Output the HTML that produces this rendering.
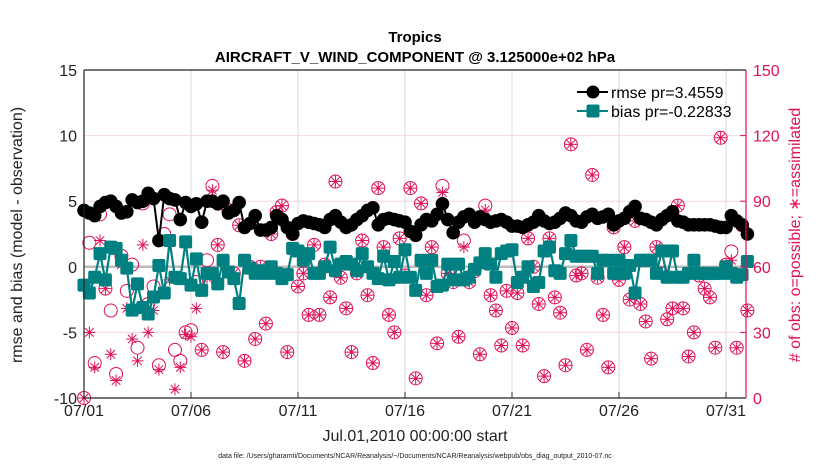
<!DOCTYPE html>
<html><head><meta charset="utf-8"><style>
body{margin:0;background:#fff;}
svg{display:block;font-family:"Liberation Sans",Arial,sans-serif;}
</style></head><body>
<svg id="chart" width="830" height="470" viewBox="0 0 830 470" xmlns="http://www.w3.org/2000/svg">
<g id="grid"></g>
<g id="obs"></g>
<g id="lines"></g>
<g id="axes"></g>
<text x="415" y="42" text-anchor="middle" font-size="15" font-weight="bold">Tropics</text>
<text x="415" y="62" text-anchor="middle" font-size="15" font-weight="bold">AIRCRAFT_V_WIND_COMPONENT @ 3.125000e+02 hPa</text>
<text transform="translate(22,235) rotate(-90)" text-anchor="middle" font-size="16" fill="#222">rmse and bias (model - observation)</text>
<text transform="translate(800,235) rotate(-90)" text-anchor="middle" font-size="16" fill="#e0105a"># of obs: o=possible; ∗=assimilated</text>
<text x="415" y="441" text-anchor="middle" font-size="16" fill="#222">Jul.01,2010 00:00:00 start</text>
<text x="415" y="458" text-anchor="middle" font-size="7" fill="#222">data file: /Users/gharamti/Documents/NCAR/Reanalysis/~/Documents/NCAR/Reanalysis/webpub/obs_diag_output_2010-07.nc</text>
<g>
<line x1="577" y1="92" x2="608" y2="92" stroke="#000" stroke-width="2"/>
<circle cx="593" cy="92" r="6.5" fill="#000"/>
<text x="611" y="98" font-size="16">rmse pr=3.4559</text>
<line x1="577" y1="111" x2="608" y2="111" stroke="#008080" stroke-width="2"/>
<rect x="586.5" y="104.5" width="13" height="13" rx="2" fill="#008080"/>
<text x="611" y="117" font-size="16">bias pr=-0.22833</text>
</g>
</svg>
<script>
const xTickLabels=["07/01","07/06","07/11","07/16","07/21","07/26","07/31"];
const xTickDays=[0,5,10,15,20,25,30];
const yTicks=[-10,-5,0,5,10,15];
const y2Ticks=[0,30,60,90,120,150];
const rmse=[4.3,4.1,3.9,4.6,4.9,5.0,4.6,4.1,4.2,5.1,4.9,5.0,5.6,5.2,2.0,5.5,5.2,5.1,3.6,4.9,4.6,4.8,3.4,5.0,5.0,4.8,5.0,4.1,4.3,4.9,3.0,3.3,3.9,2.8,2.8,3.0,3.9,3.6,3.0,2.5,3.3,3.5,3.4,3.3,3.2,3.0,3.6,3.9,3.4,3.0,3.2,3.6,3.9,4.3,4.5,3.2,3.6,3.7,3.6,3.5,3.4,2.7,2.4,3.2,3.6,3.5,4.0,4.8,3.6,2.6,3.4,3.8,4.0,3.4,3.8,3.6,3.4,3.5,3.6,3.4,3.1,3.1,3.0,3.2,3.4,3.9,3.5,3.3,3.4,3.7,4.1,3.9,3.5,3.4,3.8,4.0,3.7,3.8,4.0,3.2,3.5,3.7,4.2,4.6,3.7,3.6,3.4,3.2,3.6,3.9,4.2,3.5,3.4,3.2,3.2,3.2,3.2,3.2,3.1,3.0,3.0,3.9,3.5,3.2,2.5];
const bias=[-1.4,-2.0,-0.8,1.0,-1.0,1.5,1.4,0.5,-0.1,-3.3,-1.3,-3.1,-3.6,-2.3,0.1,-2.0,2.0,-0.8,-0.9,1.9,-1.4,0.6,-1.8,-0.5,-0.5,-1.3,0.5,-0.4,-0.9,-2.8,0.5,-0.1,-0.5,-0.3,-0.5,0,-0.5,-0.9,-0.6,1.4,1.2,0.5,1.0,-0.5,-0.5,0,1.5,-0.3,0.2,0.4,0.2,-0.3,1.0,0,-0.5,-0.9,0.8,-1.0,0.4,-0.8,1.3,-0.8,-1.8,0.5,-0.5,0.5,-1.5,-1.4,0.2,-1.0,0.2,-1.0,-0.8,-0.2,0.3,1.0,0.2,-0.8,1.0,1.2,1.3,-1.2,-0.8,0,-1.5,-1.2,1.2,1.5,-0.3,-0.5,1.0,2.0,0.8,0.8,0.8,0.8,-0.5,0.5,0.5,-0.5,0.5,-0.5,0.1,-2.0,0.5,0.5,0.5,-0.5,1.2,-0.8,1.2,-0.8,-0.8,-0.5,0.5,-0.5,-0.5,-0.5,-0.5,-0.5,0,-0.5,-0.8,-0.6,0.4];
const possible=[0,71,16,84,50,40,11,65,49,61,23,89,43,51,15,75,84,22,17,30,31,53,22,63,97,70,21,86,57,79,17,60,27,60,34,75,85,88,21,75,51,57,38,70,38,61,46,99,55,41,21,57,72,47,16,96,69,38,30,73,56,96,9,89,47,69,25,97,57,53,28,72,53,58,20,88,47,40,24,49,32,48,24,73,60,43,10,73,46,39,15,116,56,57,22,102,55,38,14,78,54,69,45,81,43,35,18,69,57,36,41,88,41,19,30,56,50,46,23,119,61,67,23,79,40];
const assimilated=[0,30,14,72,50,20,8,61,41,27,17,70,30,40,13,72,54,4,14,29,28,41,22,55,95,70,21,86,57,79,17,60,27,60,34,75,85,88,21,75,51,57,38,70,38,61,46,99,55,41,21,57,72,47,16,96,69,38,30,73,56,96,9,89,47,69,25,94,57,53,28,69,53,58,20,86,47,40,24,49,32,48,24,73,60,43,10,73,46,39,15,116,56,57,22,102,55,38,14,78,54,69,45,81,43,35,18,69,57,36,41,88,41,19,30,56,50,46,23,119,61,63,23,79,40];

const NS="http://www.w3.org/2000/svg";
const L=84,R=746,T=70,B=398;
const x=d=>L+d*21.4;
const y=v=>B-(v+10)/25*(B-T);
const y2=v=>B-v/150*(B-T);
function mk(tag,attrs,parent){const e=document.createElementNS(NS,tag);for(const k in attrs)e.setAttribute(k,attrs[k]);parent.appendChild(e);return e;}
const grid=document.getElementById('grid'),axes=document.getElementById('axes'),obs=document.getElementById('obs'),lines=document.getElementById('lines');
xTickDays.forEach((d,i)=>{
 const g=mk('line',{x1:x(d),x2:x(d),y1:T,y2:B,stroke:'#d8d8d8','stroke-width':1},grid);
 
 
 const tk=mk('line',{x1:x(d),x2:x(d),y1:B,y2:B-6,stroke:'#333'},axes);
 
 
 const t=mk('text',{x:x(d),y:B+18,'text-anchor':'middle','font-size':16,fill:'#222'},axes);
 t.textContent=xTickLabels[i];
 
 
});
yTicks.forEach(v=>{
 if(v>-10&&v<15){const g=mk('line',{x1:L,x2:R,y1:y(v),y2:y(v),stroke:'#f0d8e2','stroke-width':1},grid);
 
 }
 const t=mk('text',{x:L-7,y:y(v)+6,'text-anchor':'end','font-size':16,fill:'#222'},axes);
 t.textContent=v;
 
 
});
y2Ticks.forEach(v=>{
 const tk=mk('line',{x1:R,x2:R-6,y1:y2(v),y2:y2(v),stroke:'#e0105a'},axes);
 
 
 const t=mk('text',{x:R+7,y:y2(v)+6,'font-size':16,fill:'#e0105a'},axes);
 t.textContent=v;
 
 
});
const zl=mk('line',{x1:L,x2:R,y1:y(0),y2:y(0),stroke:'#bbb','stroke-width':2.5},grid);


const ax1=mk('path',{d:`M${L},${T}V${B}H${R}M${L},${T}H${R}`,stroke:'#222',fill:'none','stroke-width':1.2},axes);


const ax2=mk('line',{x1:R,x2:R,y1:T,y2:B,stroke:'#e0105a','stroke-width':1.2},axes);


const C='#e0105a';
possible.forEach((v,i)=>{
 const c=mk('circle',{cx:x(i/4),cy:y2(v),r:6.5,fill:'none',stroke:C,'stroke-width':1},obs);
 
 
});
assimilated.forEach((v,i)=>{
 const cx=x(i/4),cy=y2(v),s=6,d=s*0.707;
 const p=mk('path',{d:`M${cx-s},${cy}H${cx+s}M${cx},${cy-s}V${cy+s}M${cx-d},${cy-d}L${cx+d},${cy+d}M${cx-d},${cy+d}L${cx+d},${cy-d}`,stroke:C,'stroke-width':1},obs);
 
 
});
const rl=mk('polyline',{points:rmse.map((v,i)=>x(i/4)+','+y(v)).join(' '),fill:'none',stroke:'#000','stroke-width':2},lines);


rmse.forEach((v,i)=>{
 const c=mk('circle',{cx:x(i/4),cy:y(v),r:6.8,fill:'#000'},lines);
 
 
});
const bl=mk('polyline',{points:bias.map((v,i)=>x(i/4)+','+y(v)).join(' '),fill:'none',stroke:'#008080','stroke-width':2.2},lines);


bias.forEach((v,i)=>{
 const r=mk('rect',{x:x(i/4)-6.5,y:y(v)-6.5,width:13,height:13,rx:2,fill:'#008080'},lines);
 
 
});
</script>
</body></html>
